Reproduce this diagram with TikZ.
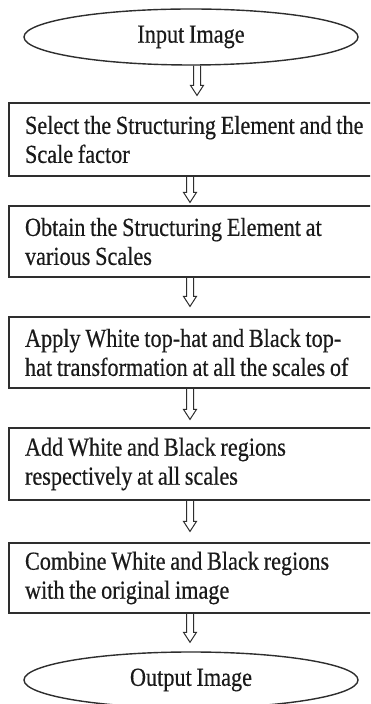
\documentclass[tikz,border=0pt]{standalone}
\usepackage{fontspec}
\setmainfont{Liberation Serif}[FakeStretch=0.855,WordSpace=0.85,FakeBold=0.4]
\usetikzlibrary{shapes.geometric,calc}
\definecolor{linec}{HTML}{2E2E2E}
\definecolor{textc}{HTML}{1A1A1A}
\newcommand\boxline[1]{\makebox[331pt][l]{#1}}
\tikzset{
  stepbox/.style={draw=linec, line width=1.2pt, rectangle,
    inner xsep=16pt, inner ysep=0pt, align=left, text=textc,
    font=\fontsize{26}{29}\selectfont},
  term/.style={draw=linec, line width=1.4pt, ellipse, minimum width=334pt,
    minimum height=56pt, inner sep=0pt, text=textc,
    font=\fontsize{26}{29}\selectfont},
  harrow/.style={draw=linec, line width=1pt, line join=miter},
}
\newcommand\hollowarr[4]{% #1 from node, #2 to node, #3 x coordinate, #4 gap
  \draw[harrow] let \p1=(#1.south), \p2=(#2.north), \p3=(#3) in
    (\x3-3.5pt,\y1) -- (\x3-3.5pt,\y2+#4+10pt) -- (\x3-6.5pt,\y2+#4+10pt)
    -- (\x3,\y2+#4) -- (\x3+6.5pt,\y2+#4+10pt) -- (\x3+3.5pt,\y2+#4+10pt)
    -- (\x3+3.5pt,\y1);
}
\begin{document}
\begin{tikzpicture}[x=1pt,y=1pt]
  \useasboundingbox (0,0) rectangle (370,704);
  \clip (0,0) rectangle (370,704);
  \fill[white] (0,0) rectangle (370,704);
  \coordinate (ax1) at (197,0);
  \coordinate (ax) at (190,0);
  \node[term] (e1) at (191,667) {Input Image};
  \node[stepbox, minimum height=73pt] (b1) at (190.5,564.5)
    {\boxline{Select the Structuring Element and the}\\\boxline{Scale factor}};
  \node[stepbox, minimum height=71pt] (b2) at (190.5,462.5)
    {\boxline{Obtain the Structuring Element at}\\\boxline{various Scales}};
  \node[stepbox, minimum height=71pt] (b3) at (190.5,351.5)
    {\boxline{Apply White top-hat and Black top-}\\\boxline{hat transformation at all the scales of}};
  \node[stepbox, minimum height=72pt] (b4) at (190.5,240)
    {\boxline{Add White and Black regions}\\\boxline{respectively at all scales}};
  \node[stepbox, minimum height=70pt] (b5) at (190.5,126)
    {\boxline{Combine White and Black regions}\\\boxline{with the original image}};
  \node[term] (e2) at (191,24) {Output Image};
  \hollowarr{e1}{b1}{ax1}{7pt}
  \hollowarr{b1}{b2}{ax}{3pt}
  \hollowarr{b2}{b3}{ax}{10pt}
  \hollowarr{b3}{b4}{ax}{8pt}
  \hollowarr{b4}{b5}{ax}{11pt}
  \hollowarr{b5}{e2}{ax}{9pt}
\end{tikzpicture}
\end{document}
